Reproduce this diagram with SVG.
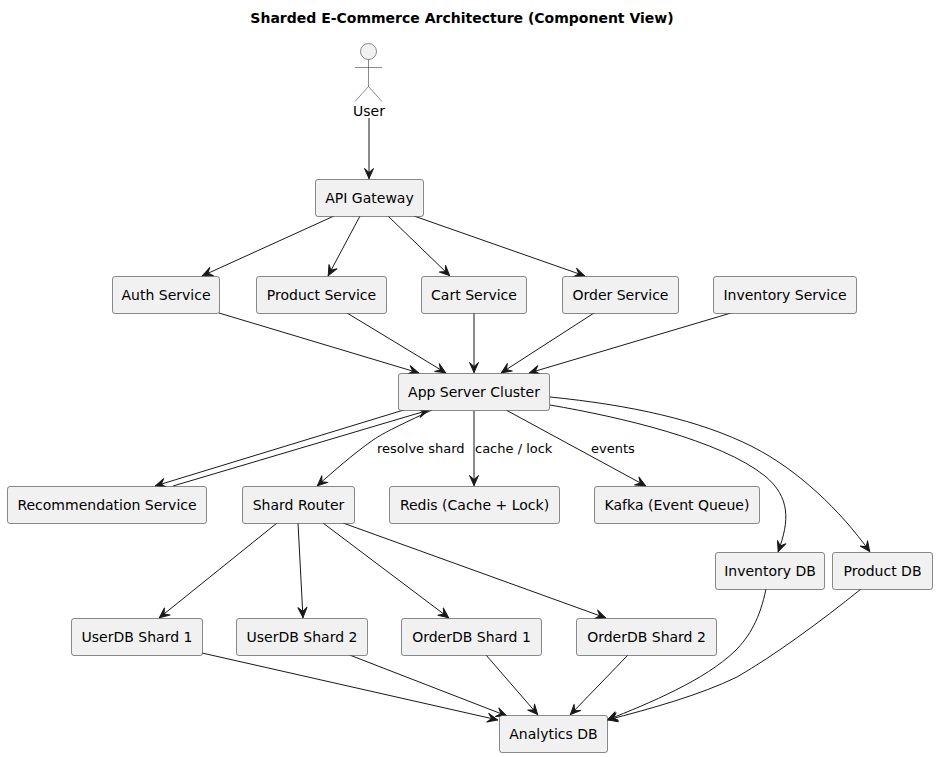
<svg xmlns="http://www.w3.org/2000/svg" width="937" height="757" viewBox="0 0 937 757">
<style>
text{font-family:"DejaVu Sans",sans-serif;font-size:14px;fill:#000}
.t{font-weight:bold;text-anchor:middle}
.n rect{fill:#F1F1F1;stroke:#181818;stroke-width:.5}
.n text{text-anchor:middle}
.l{font-size:13px}
#connectors path{fill:none;stroke:#181818;stroke-width:1;marker-end:url(#a)}
</style>
<defs>
<marker id="a" markerUnits="userSpaceOnUse" markerWidth="16" markerHeight="14" refX="13" refY="7" orient="auto"><path d="M12.500,7 L2.500,2.500 L6.500,7 L2.500,11.500 Z" fill="#181818" stroke="#181818" stroke-width="1" stroke-linejoin="round"/></marker>
</defs>
<rect width="937" height="757" fill="#fff"/>
<text class="t" x="462" y="23">Sharded E-Commerce Architecture (Component View)</text>
<g id="connectors">
<path d="M369,118 L369,179"/>
<path d="M334,216 L202,276"/>
<path d="M360,216 L328,276"/>
<path d="M388,216 L450,276"/>
<path d="M414,216 L585,276"/>
<path d="M219,313 L419,373"/>
<path d="M347,313 L446,373"/>
<path d="M474,313 L474,373"/>
<path d="M594,313 L501,373"/>
<path d="M731,313 L529,373"/>
<path d="M407,409 L155,486"/>
<path d="M173,486 L429,410"/>
<path d="M432,410 C400,425 385,432 373,440 C352,455 335,470 317,486"/>
<path d="M474,411 L474,486"/>
<path d="M506,410 L646,486"/>
<path d="M550,405 C620,417 720,440 765,476 C790,497 790,520 778,552"/>
<path d="M550,397 C630,405 700,420 753,447 C798,470 840,510 870,552"/>
<path d="M277,523 L159,618"/>
<path d="M298,523 L303,618"/>
<path d="M323,523 L449,618"/>
<path d="M343,523 L606,618"/>
<path d="M202,653 L498,720"/>
<path d="M347,654 L507,716"/>
<path d="M486,655 L538,715"/>
<path d="M628,655 L570,715"/>
<path d="M766,589 C760,618 750,636 735,651 C705,680 650,703 607,720"/>
<path d="M861,589 C820,622 775,655 737,677 C700,695 650,709 607,720"/>
</g>
<g id="user">
<circle cx="368.500" cy="51.500" r="8" fill="#F1F1F1" stroke="#181818" stroke-width=".5"/>
<path d="M368.500,59.500 V86.500 M355,67.500 H382 M368.500,86.500 L355,101.500 M368.500,86.500 L382,101.500" fill="none" stroke="#181818" stroke-width=".5"/>
<text x="369" y="116" text-anchor="middle">User</text>
</g>
<g id="api-gateway" class="n"><rect x="315.500" y="179.500" width="108" height="37" rx="2.500"/><text x="369.500" y="203">API Gateway</text></g>
<g id="auth-service" class="n"><rect x="112.500" y="276.500" width="107" height="37" rx="2.500"/><text x="166" y="300">Auth Service</text></g>
<g id="product-service" class="n"><rect x="256.500" y="276.500" width="130" height="37" rx="2.500"/><text x="321.500" y="300">Product Service</text></g>
<g id="cart-service" class="n"><rect x="421.500" y="276.500" width="105" height="37" rx="2.500"/><text x="474" y="300">Cart Service</text></g>
<g id="order-service" class="n"><rect x="562.500" y="276.500" width="116" height="37" rx="2.500"/><text x="620.500" y="300">Order Service</text></g>
<g id="inventory-service" class="n"><rect x="713.500" y="276.500" width="143" height="37" rx="2.500"/><text x="785" y="300">Inventory Service</text></g>
<g id="app-server-cluster" class="n"><rect x="398.500" y="373.500" width="151" height="37" rx="2.500"/><text x="474" y="397">App Server Cluster</text></g>
<g id="recommendation-service" class="n"><rect x="7.500" y="486.500" width="199" height="37" rx="2.500"/><text x="107" y="510">Recommendation Service</text></g>
<g id="shard-router" class="n"><rect x="242.500" y="486.500" width="112" height="37" rx="2.500"/><text x="298.500" y="510">Shard Router</text></g>
<g id="redis" class="n"><rect x="389.500" y="486.500" width="170" height="37" rx="2.500"/><text x="474.500" y="510">Redis (Cache + Lock)</text></g>
<g id="kafka" class="n"><rect x="594.500" y="486.500" width="165" height="37" rx="2.500"/><text x="677" y="510">Kafka (Event Queue)</text></g>
<g id="inventory-db" class="n"><rect x="715.500" y="552.500" width="109" height="37" rx="2.500"/><text x="770" y="576">Inventory DB</text></g>
<g id="product-db" class="n"><rect x="832.500" y="552.500" width="100" height="37" rx="2.500"/><text x="882.500" y="576">Product DB</text></g>
<g id="userdb-shard-1" class="n"><rect x="71.500" y="618.500" width="131" height="37" rx="2.500"/><text x="137" y="642">UserDB Shard 1</text></g>
<g id="userdb-shard-2" class="n"><rect x="236.500" y="618.500" width="131" height="37" rx="2.500"/><text x="302" y="642">UserDB Shard 2</text></g>
<g id="orderdb-shard-1" class="n"><rect x="401.500" y="618.500" width="140" height="37" rx="2.500"/><text x="471.500" y="642">OrderDB Shard 1</text></g>
<g id="orderdb-shard-2" class="n"><rect x="576.500" y="618.500" width="140" height="37" rx="2.500"/><text x="646.500" y="642">OrderDB Shard 2</text></g>
<g id="analytics-db" class="n"><rect x="499.500" y="715.500" width="108" height="37" rx="2.500"/><text x="553.500" y="739">Analytics DB</text></g>
<text class="l" x="377" y="453">resolve shard</text>
<text class="l" x="475" y="453">cache / lock</text>
<text class="l" x="591" y="453">events</text>
</svg>
